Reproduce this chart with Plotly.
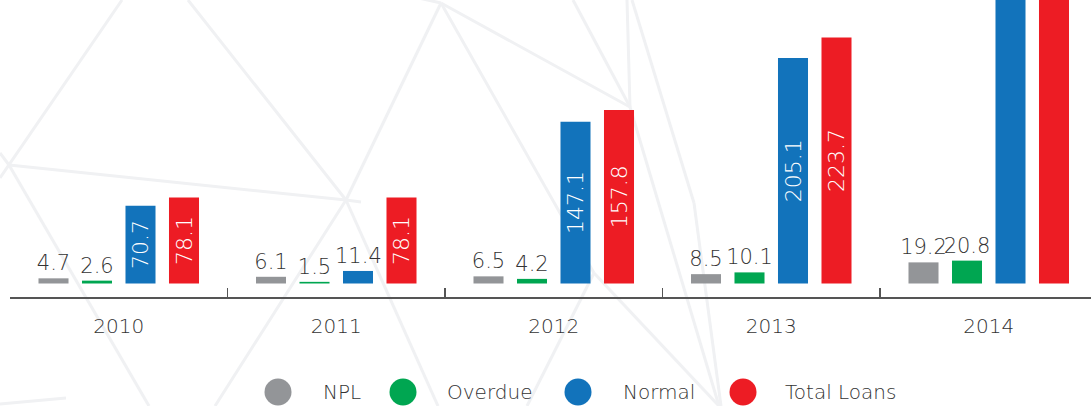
import plotly.graph_objects as go

# ---------------- data ----------------
years = ["2010", "2011", "2012", "2013", "2014"]
npl = [4.7, 6.1, 6.5, 8.5, 19.2]
overdue = [2.6, 1.5, 4.2, 10.1, 20.8]
normal = [70.7, 11.4, 147.1, 205.1, 263.1]
total_loans = [78.1, 78.1, 157.8, 223.7, 303.1]

series_names = ["NPL", "Overdue", "Normal", "Total Loans"]
series_values = [npl, overdue, normal, total_loans]
series_colors = ["#939598", "#00a651", "#1273bb", "#ed1c24"]

# ---------------- layout constants ----------------
W, H = 1091, 406
PL, PT, PW, PH = 10, 0, 1081, 297
FONT = "DejaVu Sans, Liberation Sans, Arial, sans-serif"
TXT = "#333333"
INSIDE_MIN = 30  # values above this get their label inside the bar
BARGAP = 0.2
N_SERIES = len(series_names)


def px(x):
    return (x - PL) / PW


def py(y):
    return (PT + PH - y) / PH


fig = go.Figure()
annotations = []

for k, (name, vals, col) in enumerate(zip(series_names, series_values, series_colors)):
    if name in ("NPL", "Overdue"):
        fig.add_trace(go.Bar(
            x=years, y=vals, name=name, marker=dict(color=col, line=dict(width=0)),
            text=[f"{v:.1f}" for v in vals], textposition="outside", textangle=0,
            constraintext="none", cliponaxis=False,
            outsidetextfont=dict(family=FONT, size=21, color=TXT, weight=300),
            showlegend=False, hoverinfo="skip",
        ))
    else:
        texts = [f"{v:.1f}" if v > INSIDE_MIN else "" for v in vals]
        fig.add_trace(go.Bar(
            x=years, y=vals, name=name, marker=dict(color=col, line=dict(width=0)),
            text=texts, textposition="inside", textangle=-90,
            insidetextanchor="middle", constraintext="none",
            insidetextfont=dict(family=FONT, size=22, color="white", weight=300),
            showlegend=False, hoverinfo="skip",
        ))
        # position of this series' bar inside a category group (axis units)
        slot = (1 - BARGAP) / N_SERIES
        offset = (k - (N_SERIES - 1) / 2) * slot
        for i, v in enumerate(vals):
            if v <= INSIDE_MIN:
                annotations.append(dict(
                    x=i + offset, y=v, xref="x", yref="y", text=f"{v:.1f}", showarrow=False,
                    yanchor="bottom", yshift=1,
                    font=dict(family=FONT, size=21, color=TXT, weight=300),
                ))

# ---------------- background network lines ----------------
bg_lines = [
    (0, 178, 122, 0), (9, 165, 346, 200), (346, 200, 188, 0), (346, 200, 441, 3),
    (441, 3, 630, 107), (441, 3, 594, 273), (441, 3, 405, -5),
    (0, 153, 9, 165), (9, 165, 149, 406), (346, 200, 215, 406), (346, 200, 438, 406),
    (346, 200, 361, 202), (573, 0, 630, 107), (627, 0, 630, 107), (632, 0, 694, 203),
    (694, 203, 721, 406), (630, 107, 719, 406), (594, 273, 719, 406),
    (594, 273, 527, 406), (0, 404, 66, 398),
]
shapes = []
for x0, y0, x1, y1 in bg_lines:
    shapes.append(dict(type="line", xref="paper", yref="paper",
                       x0=px(x0), y0=py(y0), x1=px(x1), y1=py(y1),
                       line=dict(color="#f0f1f3", width=3), layer="below"))

# ---------------- manual legend (large circles) ----------------
leg_circle_x = [278, 403, 578, 743]
leg_text_x = [321, 445, 621, 783]
leg_y = 392
r = 13.5
for name, col, cx, tx in zip(series_names, series_colors, leg_circle_x, leg_text_x):
    shapes.append(dict(type="circle", xref="paper", yref="paper",
                       x0=px(cx - r), x1=px(cx + r), y0=py(leg_y + r), y1=py(leg_y - r),
                       fillcolor=col, line=dict(width=0), layer="above"))
    annotations.append(dict(x=px(tx), y=py(leg_y), xref="paper", yref="paper",
                            text=name, showarrow=False, xanchor="left", yanchor="middle",
                            font=dict(family=FONT, size=20, color=TXT, weight=300)))

# axis scale: ~1.1 px per unit, baseline 13.5 px above the axis line
ppu = 1.1
y_low = -13.5 / ppu
y_high = y_low + PH / ppu
cat_px = 217.5
x_high = -0.5 + PW / cat_px

fig.update_layout(
    width=W, height=H, autosize=False,
    margin=dict(l=PL, r=W - PL - PW, t=PT, b=H - PT - PH, pad=0),
    paper_bgcolor="white", plot_bgcolor="white",
    barmode="group", bargap=BARGAP, bargroupgap=0.31,
    showlegend=False,
    font=dict(family=FONT, color=TXT),
    xaxis=dict(
        type="category", range=[-0.5, x_high], showgrid=False, zeroline=False,
        showline=True, linecolor="#555555", linewidth=1.5,
        ticks="inside", tickson="boundaries", ticklen=9, tickcolor="#555555", tickwidth=1.2,
        tickfont=dict(family=FONT, size=20, color=TXT, weight=300),
        ticklabelstandoff=10, fixedrange=True,
    ),
    yaxis=dict(range=[y_low, y_high], visible=False, showgrid=False, zeroline=False,
               fixedrange=True),
    shapes=shapes,
    annotations=annotations,
)

fig.write_html(
    "out.html",
    config={"displayModeBar": False, "staticPlot": True},
    post_script="document.body.style.margin='0';document.body.style.overflow='hidden';",
)
